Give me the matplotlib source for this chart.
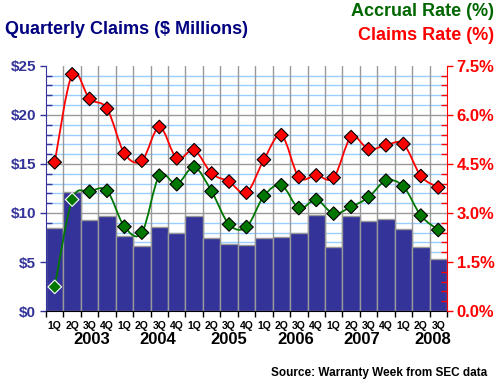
import matplotlib
matplotlib.use("Agg")
import matplotlib.pyplot as plt
import numpy as np
from matplotlib.path import Path
from matplotlib.patches import PathPatch
from matplotlib.transforms import blended_transform_factory

plt.rcParams['font.family'] = ['Liberation Sans', 'DejaVu Sans']

# data: 1Q 2003 .. 3Q 2008
quarters = ['1Q', '2Q', '3Q', '4Q'] * 5 + ['1Q', '2Q', '3Q']
years = ['2003', '2004', '2005', '2006', '2007', '2008']
claims = [8.5, 12.1, 9.3, 9.7, 7.7, 6.6, 8.6, 8.0, 9.7, 7.4, 6.8, 6.7,
          7.4, 7.6, 8.0, 9.8, 6.5, 9.7, 9.2, 9.4, 8.4, 6.5, 5.3]
claims_rate = [4.55, 7.24, 6.49, 6.19, 4.82, 4.60, 5.63, 4.67, 4.92, 4.21, 3.96, 3.62,
               4.63, 5.38, 4.10, 4.15, 4.08, 5.32, 4.95, 5.07, 5.11, 4.13, 3.78]
accrual_rate = [0.74, 3.41, 3.65, 3.68, 2.58, 2.40, 4.14, 3.88, 4.40, 3.66, 2.65, 2.57,
                3.52, 3.85, 3.15, 3.40, 2.98, 3.19, 3.48, 3.99, 3.81, 2.92, 2.48]

# where the year labels sit (in bar-index units)
year_pos = [2.1, 5.9, 10.0, 13.8, 17.6, 21.7]

NAVY = '#333399'
RED = '#FF0000'
GREEN = '#007700'


def smooth_path(x, y):
    """Bezier path through points, like a spreadsheet 'smoothed line'."""
    pts = np.column_stack([x, y]).astype(float)
    n = len(pts)
    verts = [pts[0]]
    codes = [Path.MOVETO]
    for i in range(n - 1):
        p0 = pts[i - 1] if i > 0 else pts[i]
        p1, p2 = pts[i], pts[i + 1]
        p3 = pts[i + 2] if i + 2 < n else pts[i + 1]
        c1 = p1 + (p2 - p0) / 6.0
        c2 = p2 - (p3 - p1) / 6.0
        verts += [c1, c2, p2]
        codes += [Path.CURVE4] * 3
    return Path(verts, codes)


fig = plt.figure(figsize=(5, 3.85), dpi=100)
ax = fig.add_axes([0.092, 0.192, 0.802, 0.637])
x = np.arange(len(claims))

# grid
for v in range(1, 25):
    ax.axhline(v, color='#999999' if v % 5 == 0 else '#99CCFF', lw=1, zorder=0)
for b in range(1, len(claims)):
    ax.axvline(b - 0.5, color='#999999', lw=1, zorder=0)

ax.bar(x, claims, width=1.0, color=NAVY, edgecolor='#999999', lw=1, zorder=2)
ax.set_xlim(-0.5, len(claims) - 0.5)
ax.set_ylim(0, 25)
ax.set_yticks(range(0, 26, 5))
ax.set_yticklabels(['$%d' % v for v in range(0, 26, 5)])
ax.set_yticks(range(0, 26), minor=True)
ax.tick_params(axis='y', which='major', direction='out', length=4, width=1,
               color=NAVY, labelcolor=NAVY, labelsize=11, pad=3)
ax.tick_params(axis='y', which='minor', direction='in', length=4, width=1, color=NAVY)
for lab in ax.get_yticklabels():
    lab.set_fontweight('bold')

ax.set_xticks(x)
ax.set_xticklabels(quarters, fontsize=7.5, fontweight='bold')
ax.set_xticks(np.arange(-0.5, len(claims)), minor=True)
ax.tick_params(axis='x', which='major', length=0, pad=7)
ax.tick_params(axis='x', which='minor', direction='out', length=4, width=1, color='black')

ax.spines['left'].set_color(NAVY)
ax.spines['bottom'].set_color('black')
ax.spines['top'].set_visible(False)
ax.spines['right'].set_visible(False)

# rate axis
ax2 = ax.twinx()
ax2.set_ylim(0, 7.5)
ax2.set_yticks(np.arange(0, 7.6, 1.5))
ax2.set_yticklabels(['%.1f%%' % v for v in np.arange(0, 7.6, 1.5)])
ax2.set_yticks(np.arange(0, 7.6, 0.3), minor=True)
ax2.tick_params(axis='y', which='major', direction='out', length=4, width=1,
                color=RED, labelcolor=RED, labelsize=12, pad=3)
ax2.tick_params(axis='y', which='minor', direction='in', length=4, width=1, color=RED)
for lab in ax2.get_yticklabels():
    lab.set_fontweight('bold')
ax2.spines['right'].set_color(RED)
for s in ['left', 'top', 'bottom']:
    ax2.spines[s].set_visible(False)

for vals, col in [(claims_rate, RED), (accrual_rate, GREEN)]:
    ax2.add_patch(PathPatch(smooth_path(x, vals), facecolor='none',
                            edgecolor=col, lw=1.3, zorder=3))
    under = np.array(vals) * 25 / 7.5 < np.array(claims)
    edges = ['white' if u else 'black' for u in under]
    ax2.scatter(x, vals, marker='D', s=48, c=col, edgecolors=edges,
                linewidths=0.8, zorder=4)

# year labels
trans = blended_transform_factory(ax.transData, fig.transFigure)
for pos, yr in zip(year_pos, years):
    ax.text(pos, 1 - 340 / 385, yr, transform=trans, ha='center', va='center',
            fontsize=12, fontweight='bold', color='black')

fig.text(5 / 500, 1 - 30 / 385, 'Quarterly Claims ($ Millions)', ha='left', va='center',
         fontsize=13, fontweight='bold', color='#000080')
fig.text(494 / 500, 1 - 12 / 385, 'Accrual Rate (%)', ha='right', va='center',
         fontsize=13, fontweight='bold', color='#006600')
fig.text(494 / 500, 1 - 35 / 385, 'Claims Rate (%)', ha='right', va='center',
         fontsize=13, fontweight='bold', color=RED)
fig.text(487 / 500, 1 - 373 / 385, 'Source: Warranty Week from SEC data', ha='right',
         va='center', fontsize=8.5, fontweight='bold', color='black')

fig.savefig('out.png', dpi=100, facecolor='white')
